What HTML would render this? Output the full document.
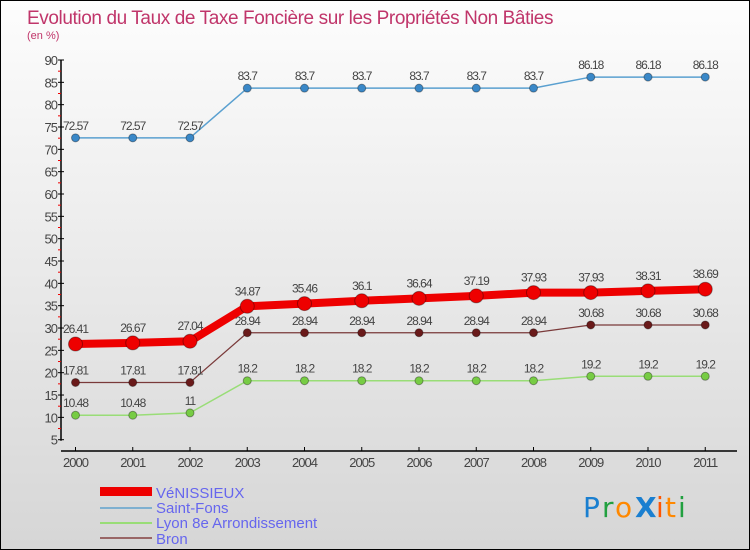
<!DOCTYPE html>
<html><head><meta charset="utf-8"><style>
body{margin:0;}
#wrap{width:748px;height:548px;border:1px solid #000;position:relative;background:linear-gradient(#fdfdfd,#d6d6d6);font-family:"Liberation Sans",sans-serif;overflow:hidden}
</style></head><body>
<div id="wrap">
<svg id="chart" width="748" height="548" xmlns="http://www.w3.org/2000/svg">
<text x="26" y="23" font-size="19" letter-spacing="-0.4" fill="#c0356a">Evolution du Taux de Taxe Foncière sur les Propriétés Non Bâties</text>
<text x="26" y="38" font-size="11" fill="#c0356a">(en %)</text>
<g id="axes"></g><g id="series"></g>
<g>
<rect x="99" y="486" width="52" height="9" fill="#ee0000"/>
<text x="155" y="497" font-size="15" fill="#6666ee">VéNISSIEUX</text>
<line x1="99" y1="507" x2="151" y2="507" stroke="#7fb0d0" stroke-width="2"/>
<text x="155" y="512" font-size="15" fill="#6666ee">Saint-Fons</text>
<line x1="99" y1="522" x2="151" y2="522" stroke="#99dd77" stroke-width="2"/>
<text x="155" y="527" font-size="15" fill="#6666ee">Lyon 8e  Arrondissement</text>
<line x1="99" y1="537" x2="151" y2="537" stroke="#996666" stroke-width="2"/>
<text x="155" y="543" font-size="15" fill="#6666ee">Bron</text>
</g>
<g font-size="28" font-family="DejaVu Sans, sans-serif">
<text x="582" y="516" fill="#1a7fd0">P</text><text x="601" y="516" fill="#22a040">r</text><text x="614" y="516" fill="#ff8800">o</text><text x="634" y="516" fill="#1a7fd0" font-weight="bold">X</text><text x="655" y="516" fill="#ff5500">i</text><text x="664" y="516" fill="#ff8800">t</text><text x="677" y="516" fill="#22a040">i</text>
</g>
</svg>
</div>
<script>
const years=["2000","2001","2002","2003","2004","2005","2006","2007","2008","2009","2010","2011"];
const yTicks=[5,10,15,20,25,30,35,40,45,50,55,60,65,70,75,80,85,90];
const venissieux=[26.41,26.67,27.04,34.87,35.46,36.1,36.64,37.19,37.93,37.93,38.31,38.69];
const saintFons=[72.57,72.57,72.57,83.7,83.7,83.7,83.7,83.7,83.7,86.18,86.18,86.18];
const lyon8=[10.48,10.48,11,18.2,18.2,18.2,18.2,18.2,18.2,19.2,19.2,19.2];
const bron=[17.81,17.81,17.81,28.94,28.94,28.94,28.94,28.94,28.94,30.68,30.68,30.68];
const NS="http://www.w3.org/2000/svg";
function xS(i){return 74.5+i*57.25;}
function yS(v){return 59+(90-v)*4.467;}
function mk(t,a,p){const e=document.createElementNS(NS,t);for(const k in a)e.setAttribute(k,a[k]);p.appendChild(e);return e;}
const ax=document.getElementById('axes');
let e=mk('line',{x1:60,y1:yS(90),x2:60,y2:yS(5)+1,stroke:'#000','stroke-width':1.5},ax);


yTicks.forEach((v,k)=>{
 let t=mk('line',{x1:57,y1:yS(v),x2:63,y2:yS(v),stroke:'#000'},ax);
 
 
 if(k<yTicks.length-1){
  let m=mk('line',{x1:57,y1:yS(v+2.5),x2:60,y2:yS(v+2.5),stroke:'#e00'},ax);
  
  
 }
 let l=mk('text',{x:56,y:yS(v)+5,'text-anchor':'end','font-size':13,fill:'#444','letter-spacing':'-1'},ax);l.textContent=v;
 
 
});
e=mk('line',{x1:60,y1:450,x2:736,y2:450,stroke:'#000','stroke-width':1.5},ax);


years.forEach((y,i)=>{
 let t=mk('line',{x1:xS(i),y1:446,x2:xS(i),y2:450,stroke:'#000'},ax);
 
 
 let l=mk('text',{x:xS(i),y:466,'text-anchor':'middle','font-size':13,fill:'#444','letter-spacing':'-1'},ax);l.textContent=y;
 
 
});
const sg=document.getElementById('series');
function draw(vals,name,color,lw,r,stroke){
 const g=mk('g',{},sg);
 
 
 const p=mk('polyline',{points:vals.map((v,i)=>xS(i)+','+yS(v)).join(' '),fill:'none',stroke:color,'stroke-width':lw,'stroke-linejoin':'round'},g);
 
 
 vals.forEach((v,i)=>{
  const c=mk('circle',{cx:xS(i),cy:yS(v),r:r,fill:stroke,stroke:'rgba(0,0,0,0.35)','stroke-width':1},g);
  
  
  const t=mk('text',{x:xS(i),y:yS(v)-(r+4),'text-anchor':'middle','font-size':12,fill:'#444','letter-spacing':'-1'},g);
  t.textContent=String(v);
  
  
 });
}
draw(saintFons,'saint-fons','#5aa0d0',1.5,4,'#3a88c8');
draw(lyon8,'lyon-8e','#99dd77',1.5,4,'#77cc44');
draw(bron,'bron','#7a3a3a',1.2,4,'#6a1a1a');
draw(venissieux,'venissieux','#ee0000',8,7,'#ee0000');
</script>
</body></html>
